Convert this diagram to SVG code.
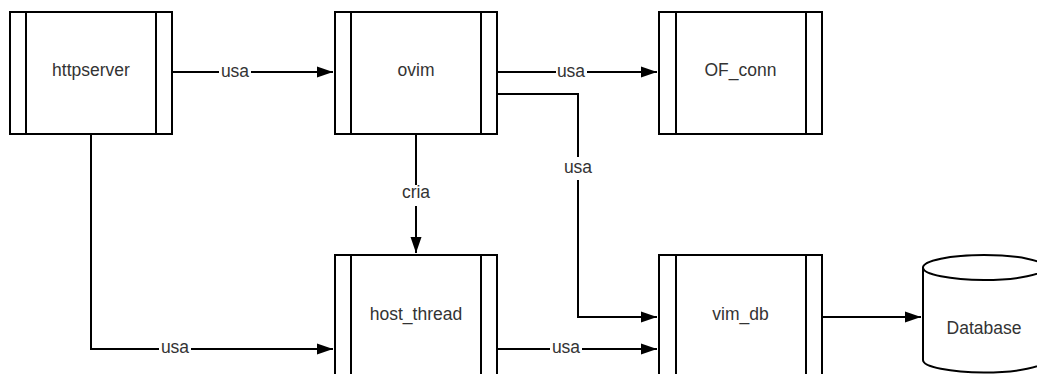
<svg xmlns="http://www.w3.org/2000/svg" width="1037" height="374" viewBox="0 0 1037 374">
<style>
.box{fill:#fff;stroke:#000;stroke-width:2}
.bar{stroke:#000;stroke-width:2}
.lbl{font-family:"Liberation Sans",Arial,sans-serif;font-size:17.5px;fill:#333;text-anchor:middle}
.edge{fill:none;stroke:#000;stroke-width:2}
.bg{fill:#fff}
</style>
<defs>
<marker id="arr" markerUnits="userSpaceOnUse" markerWidth="18" markerHeight="12" refX="16" refY="6" orient="auto">
<path d="M0,0.5 L16,6 L0,11.5 Z" fill="#000"/>
</marker>
</defs>
<rect width="1037" height="374" fill="#fff"/>
<g id="connectors">
<path class="edge" d="M172,72 H333" marker-end="url(#arr)"/>
<rect class="bg" x="219" y="64" width="32" height="16"/>
<text class="lbl" x="235" y="76.5">usa</text>
<path class="edge" d="M497,72 H657" marker-end="url(#arr)"/>
<rect class="bg" x="556" y="64" width="31" height="16"/>
<text class="lbl" x="571" y="76.5">usa</text>
<path class="edge" d="M497,94 H578 V317 H657" marker-end="url(#arr)"/>
<rect class="bg" x="562" y="157" width="32" height="23"/>
<text class="lbl" x="578" y="173">usa</text>
<path class="edge" d="M416,134 V253" marker-end="url(#arr)"/>
<rect class="bg" x="400" y="185" width="32" height="21"/>
<text class="lbl" x="416" y="198">cria</text>
<path class="edge" d="M91,134 V349 H333" marker-end="url(#arr)"/>
<rect class="bg" x="159" y="341" width="32" height="16"/>
<text class="lbl" x="175" y="353">usa</text>
<path class="edge" d="M497,349 H657" marker-end="url(#arr)"/>
<rect class="bg" x="550" y="341" width="32" height="16"/>
<text class="lbl" x="566" y="353">usa</text>
<path class="edge" d="M822,317 H921" marker-end="url(#arr)"/>
</g>
<g id="httpserver">
<rect class="box" x="10" y="12" width="162" height="122"/>
<line class="bar" x1="26" y1="12" x2="26" y2="134"/>
<line class="bar" x1="156" y1="12" x2="156" y2="134"/>
<text class="lbl" x="91" y="76">httpserver</text>
</g>
<g id="ovim">
<rect class="box" x="335" y="12" width="162" height="122"/>
<line class="bar" x1="351" y1="12" x2="351" y2="134"/>
<line class="bar" x1="481" y1="12" x2="481" y2="134"/>
<text class="lbl" x="416" y="76">ovim</text>
</g>
<g id="OF_conn">
<rect class="box" x="659" y="12" width="163" height="122"/>
<line class="bar" x1="676" y1="12" x2="676" y2="134"/>
<line class="bar" x1="806" y1="12" x2="806" y2="134"/>
<text class="lbl" x="740.5" y="76">OF_conn</text>
</g>
<g id="host_thread">
<rect class="box" x="335" y="255" width="162" height="122"/>
<line class="bar" x1="351" y1="255" x2="351" y2="377"/>
<line class="bar" x1="481" y1="255" x2="481" y2="377"/>
<text class="lbl" x="416" y="320">host_thread</text>
</g>
<g id="vim_db">
<rect class="box" x="659" y="255" width="163" height="122"/>
<line class="bar" x1="676" y1="255" x2="676" y2="377"/>
<line class="bar" x1="806" y1="255" x2="806" y2="377"/>
<text class="lbl" x="740.5" y="320">vim_db</text>
</g>
<g id="Database">
<path class="box" d="M923,267.5 V360 A61,12.5 0 0 0 1045,360 V267.5 A61,12.5 0 0 0 923,267.5 Z"/>
<path class="edge" d="M923,267.5 A61,12.5 0 0 0 1045,267.5"/>
<text class="lbl" x="984" y="334">Database</text>
</g>
</svg>
